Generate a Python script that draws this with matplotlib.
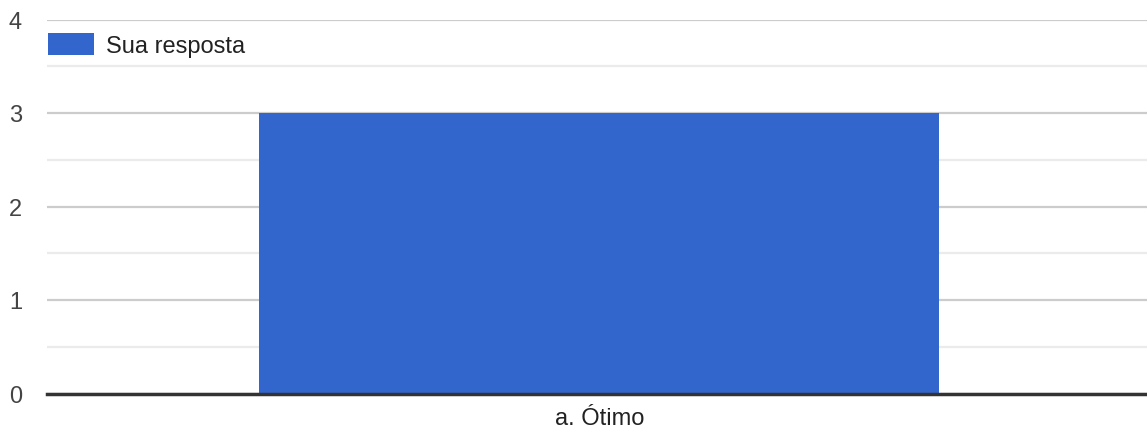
import matplotlib
matplotlib.use("Agg")
import matplotlib.pyplot as plt
from matplotlib.ticker import MultipleLocator

categorias = ["a. Ótimo"]
respostas = [3]
serie = "Sua resposta"

plt.rcParams["font.family"] = ["Liberation Sans", "DejaVu Sans"]

fig = plt.figure(figsize=(11.47, 4.35), dpi=100)
ax = fig.add_axes([47 / 1147, 40.5 / 435, 1100 / 1147, 374 / 435])

ax.bar(categorias, respostas, width=0.618, color="#3366cc", label=serie, zorder=3)
ax.set_xlim(-0.502, 0.498)
ax.set_ylim(0, 4)

# grade principal e secundaria
ax.yaxis.set_major_locator(MultipleLocator(1))
ax.yaxis.set_minor_locator(MultipleLocator(0.5))
ax.grid(axis="y", which="major", color="#cccccc", linewidth=1.6, zorder=0)
ax.grid(axis="y", which="minor", color="#ebebeb", linewidth=1.6, zorder=0)
ax.set_axisbelow(True)

for s in ["top", "right", "left"]:
    ax.spines[s].set_visible(False)
ax.spines["bottom"].set_color("#333333")
ax.spines["bottom"].set_linewidth(2.5)
ax.spines["bottom"].set_zorder(4)

ax.tick_params(axis="both", which="both", length=0)
ax.tick_params(axis="y", labelsize=17, labelcolor="#444444", pad=18)
ax.tick_params(axis="x", labelsize=17, labelcolor="#222222", pad=10)

leg = ax.legend(loc="upper left", bbox_to_anchor=(48 / 1147, 1 - 34 / 435),
                bbox_transform=fig.transFigure, frameon=False, fontsize=17,
                handlelength=1.95, handleheight=1.05, handletextpad=0.5,
                borderpad=0, borderaxespad=0)
for t in leg.get_texts():
    t.set_color("#222222")

fig.savefig("out.png", dpi=100, facecolor="white")
